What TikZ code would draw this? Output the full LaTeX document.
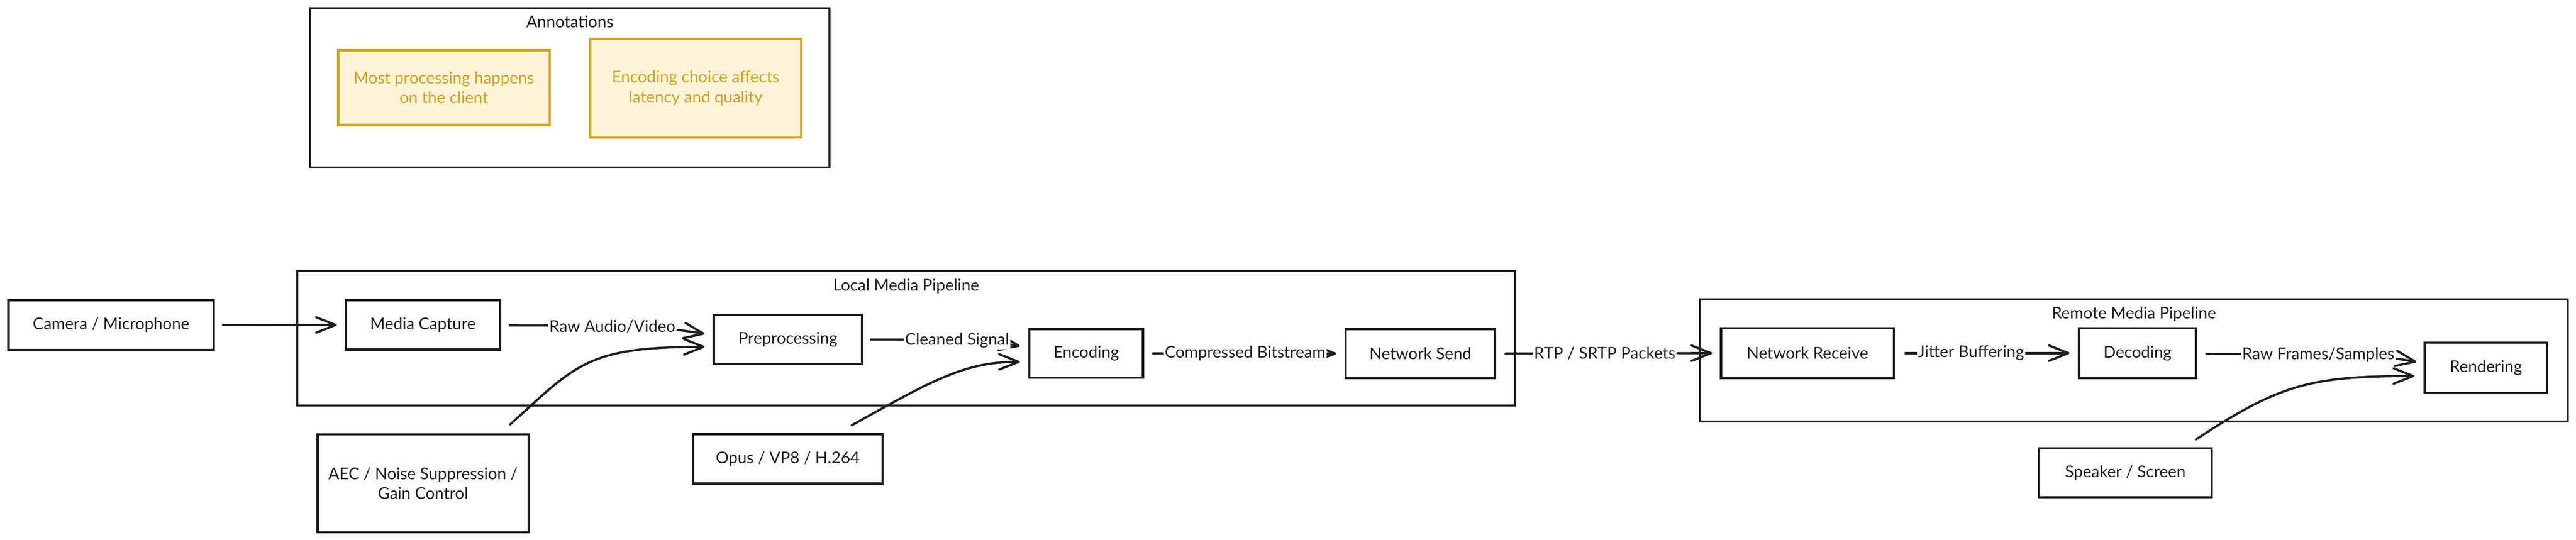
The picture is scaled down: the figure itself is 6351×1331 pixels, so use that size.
\documentclass[tikz,border=0pt]{standalone}
\usepackage{fontspec}
\setmainfont{Lato}
\usetikzlibrary{arrows.meta,calc}
\definecolor{notefill}{HTML}{FFF4D9}
\definecolor{notedraw}{HTML}{D4A21F}
\definecolor{ink}{HTML}{1E1E1E}
\begin{document}
\begin{tikzpicture}[x=1pt,y=-1pt,
  every node/.style={font=\fontsize{40}{49}\selectfont, text=ink},
  box/.style={draw=ink, line width=5.5pt, fill=white, inner sep=0pt, align=center},
  grp/.style={draw=ink, line width=5pt, inner sep=0pt},
  note/.style={draw=notedraw, fill=notefill, text=notedraw, line width=5.5pt, inner sep=0pt, align=center},
  conn/.style={draw=ink, line width=5.5pt, line cap=round, line join=round,
    -{Straight Barb[length=48pt,width=38pt,line width=5.5pt,round]}},
  lab/.style={fill=white, inner sep=3pt}]
\useasboundingbox (0,0) rectangle (6351,1331);

% groups
\node[grp, minimum width=1280pt, minimum height=393pt] (anngrp) at (1405,216.5) {};
\node (anntitle) at (1405,54) {Annotations};
\node[grp, minimum width=3003pt, minimum height=332pt] (localgrp) at (2234.5,834) {};
\node (localtitle) at (2234,706) {Local Media Pipeline};
\node[grp, minimum width=2138pt, minimum height=301pt] (remotegrp) at (5261,888.5) {};
\node (remotetitle) at (5261,774) {Remote Media Pipeline};

% notes
\node[note, minimum width=521pt, minimum height=184pt] (note1) at (1094.5,216) {Most processing happens\\on the client};
\node[note, minimum width=520pt, minimum height=244pt] (note2) at (1715,217) {Encoding choice affects\\latency and quality};

% boxes
\node[box, minimum width=506pt, minimum height=123pt] (cam) at (274,801.5) {Camera / Microphone};
\node[box, minimum width=381pt, minimum height=122pt] (cap) at (1042.5,801) {Media Capture};
\node[box, minimum width=365pt, minimum height=121pt] (prep) at (1942.5,836.5) {Preprocessing};
\node[box, minimum width=280pt, minimum height=120pt] (enc) at (2678,871) {Encoding};
\node[box, minimum width=368pt, minimum height=121pt] (send) at (3502,871.5) {Network Send};
\node[box, minimum width=520pt, minimum height=241pt] (aec) at (1043,1191.5) {AEC / Noise Suppression /\\Gain Control};
\node[box, minimum width=468pt, minimum height=122pt] (opus) at (1942,1131) {Opus / VP8 / H.264};
\node[box, minimum width=426pt, minimum height=123pt] (recv) at (4456,870.5) {Network Receive};
\node[box, minimum width=288pt, minimum height=123pt] (dec) at (5270,870.5) {Decoding};
\node[box, minimum width=302pt, minimum height=124pt] (rend) at (6129,907) {Rendering};
\node[box, minimum width=426pt, minimum height=121pt] (spk) at (5240,1165.5) {Speaker / Screen};

% connectors
\draw[conn] ($(cam.east)+(20,0)$) -- ($(cap.west)+(-19,0)$);
\draw[conn] ($(cap.east)+(21,1)$) .. controls +(346,0) and +(-80,-13) .. node[lab,pos=0.32] {Raw Audio/Video} ($(prep.west)+(-20,-13.5)$);
\draw[conn] ($(aec.north east)+(-48,-22)$) .. controls +(165,-149) and +(-290,0) .. ($(prep.west)+(-20,18.5)$);
\draw[conn] ($(prep.east)+(20,0.5)$) .. controls +(275,0) and +(-47,-8) .. node[lab,pos=0.345] {Cleaned Signal} ($(enc.west)+(-21,-18)$);
\draw[conn] ($(opus.north)+(158,-19)$) .. controls +(200,-111) and +(-137,0) .. ($(enc.west)+(-21,21)$);
\draw[conn] ($(enc.east)+(22,0)$) -- node[lab,pos=0.503] {Compressed Bitstream} ($(send.west)+(-21,0)$);
\draw[conn] ($(send.east)+(23,0)$) -- node[lab,pos=0.48] {RTP / SRTP Packets} ($(recv.west)+(-19,0)$);
\draw[conn] ($(recv.east)+(26,0)$) -- node[lab,pos=0.40] {Jitter Buffering} ($(dec.west)+(-21,0)$);
\draw[conn] ($(dec.east)+(23,2)$) .. controls +(413,0) and +(-60,-10) .. node[lab,pos=0.29] {Raw Frames/Samples} ($(rend.west)+(-18,-15)$);
\draw[conn] ($(spk.north)+(174,-19)$) .. controls +(206,-136) and +(-255,0) .. ($(rend.west)+(-23,20)$);
\end{tikzpicture}
\end{document}
